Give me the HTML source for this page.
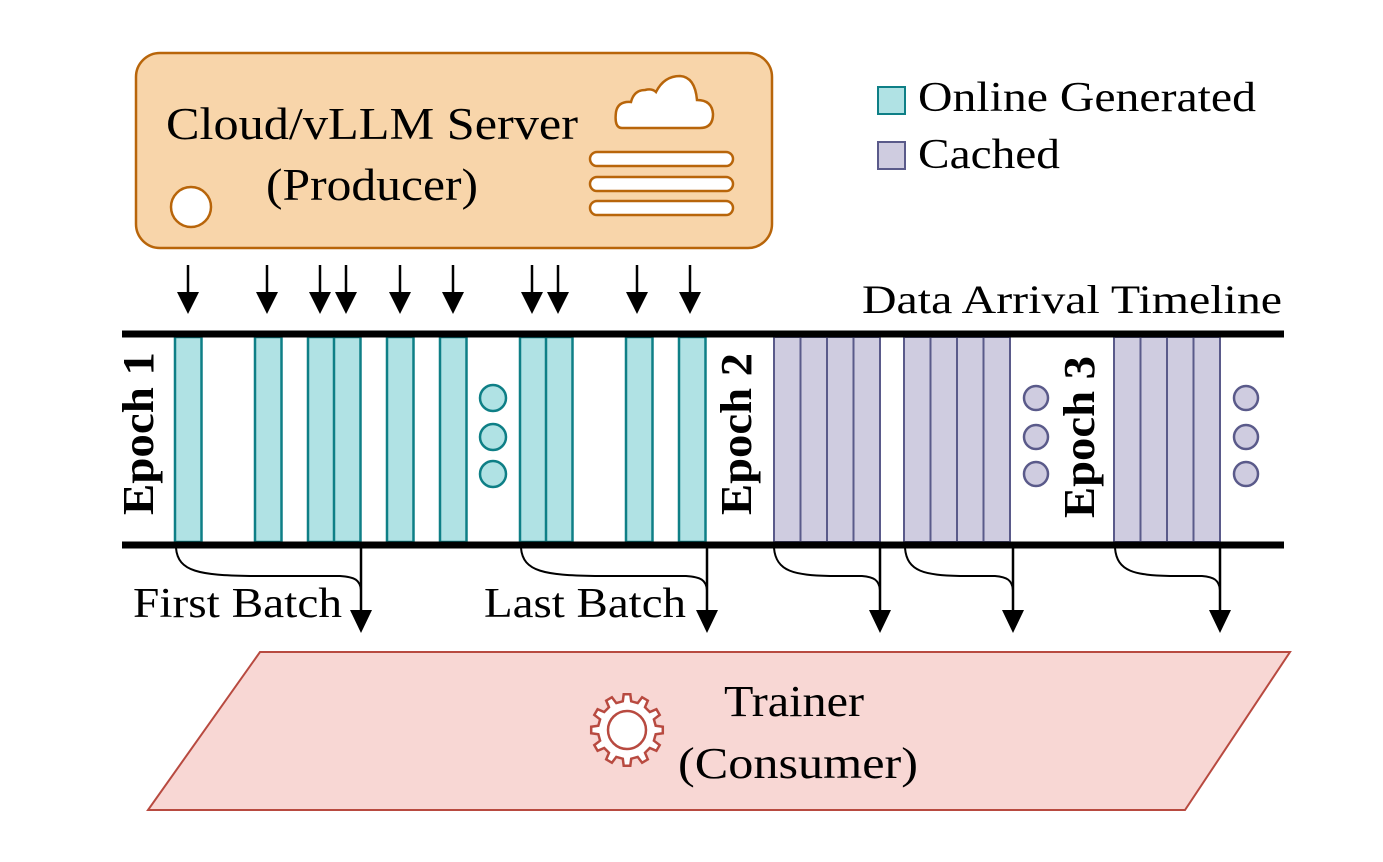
<!DOCTYPE html>
<html><head><meta charset="utf-8"><style>
html,body{margin:0;padding:0;background:#fff}
svg{display:block}
text{font-family:"Liberation Serif",serif;fill:#000}
</style></head><body>
<svg width="1383" height="862" viewBox="0 0 1383 862" xmlns="http://www.w3.org/2000/svg">
<!-- Producer -->
<rect x="136" y="53" width="636" height="195" rx="24" fill="#f8d5aa" stroke="#b8650a" stroke-width="2.5"/>
<text x="166" y="139" font-size="45" textLength="412" lengthAdjust="spacingAndGlyphs">Cloud/vLLM Server</text>
<text x="266" y="200" font-size="45" textLength="212" lengthAdjust="spacingAndGlyphs">(Producer)</text>
<circle cx="191" cy="207" r="20" fill="#fff" stroke="#b8650a" stroke-width="2.5"/>
<path d="M622,128 Q614,128 616,112 Q618,101 631,102 Q634,90 645,90 Q652,88 656,92 Q664,76 680,76 Q695,77 697,100 Q712,100 713,114 Q713,128 700,128 Z" fill="#fff" stroke="#b8650a" stroke-width="2.5"/>
<rect x="590" y="152" width="143" height="14" rx="7" fill="#fff" stroke="#b8650a" stroke-width="2.5"/>
<rect x="590" y="177" width="143" height="14" rx="7" fill="#fff" stroke="#b8650a" stroke-width="2.5"/>
<rect x="590" y="201" width="143" height="14" rx="7" fill="#fff" stroke="#b8650a" stroke-width="2.5"/>
<!-- Legend -->
<rect x="878" y="87" width="27" height="27" fill="#b0e2e4" stroke="#0e7f86" stroke-width="2"/>
<text x="918" y="111" font-size="42" textLength="338" lengthAdjust="spacingAndGlyphs">Online Generated</text>
<rect x="878" y="142" width="27" height="27" fill="#cfcce0" stroke="#5a5a8a" stroke-width="2"/>
<text x="918" y="168" font-size="42" textLength="142" lengthAdjust="spacingAndGlyphs">Cached</text>
<text x="862" y="313" font-size="40" textLength="420" lengthAdjust="spacingAndGlyphs">Data Arrival Timeline</text>
<g id="tarrows" stroke="#000" stroke-width="2.5" fill="#000"></g>
<g id="bars"></g>
<line x1="122" y1="334" x2="1284" y2="334" stroke="#000" stroke-width="7"/>
<line x1="122" y1="545" x2="1284" y2="545" stroke="#000" stroke-width="7"/>
<text transform="translate(153,515) rotate(-90)" font-size="44" font-weight="bold" textLength="163" lengthAdjust="spacingAndGlyphs">Epoch 1</text>
<text transform="translate(751,515) rotate(-90)" font-size="44" font-weight="bold" textLength="162" lengthAdjust="spacingAndGlyphs">Epoch 2</text>
<text transform="translate(1094,518) rotate(-90)" font-size="44" font-weight="bold" textLength="162" lengthAdjust="spacingAndGlyphs">Epoch 3</text>
<g fill="none" stroke="#000" stroke-width="2">
<path d="M176,548 C178,572 200,575 250,576 L340,576 C355,577 360,580 361,590"/>
<path d="M521,548 C523,572 545,575 595,576 L686,576 C701,577 706,580 707,590"/>
<path d="M774,548 C776,572 795,575 830,576 L862,576 C874,577 879,580 880,590"/>
<path d="M905,548 C907,572 925,575 960,576 L995,576 C1007,577 1012,580 1013,590"/>
<path d="M1115,548 C1117,572 1135,575 1170,576 L1202,576 C1214,577 1219,580 1220,590"/>
</g>
<g id="barrows" stroke="#000" stroke-width="2.5" fill="#000"></g>
<text x="133" y="617" font-size="42" textLength="209" lengthAdjust="spacingAndGlyphs">First Batch</text>
<text x="484" y="617" font-size="42" textLength="202" lengthAdjust="spacingAndGlyphs">Last Batch</text>
<polygon points="260,652 1290,652 1185,810 148,810" fill="#f8d7d4" stroke="#b84a40" stroke-width="2"/>
<text x="724" y="716" font-size="44" textLength="140" lengthAdjust="spacingAndGlyphs">Trainer</text>
<text x="678" y="778" font-size="44" textLength="240" lengthAdjust="spacingAndGlyphs">(Consumer)</text>
<path id="gear" fill="#fff" stroke="#b84a40" stroke-width="2.5"/>
<circle cx="627" cy="730" r="19" fill="#fff" stroke="#b84a40" stroke-width="2.5"/>
</svg>
<script>
var NS="http://www.w3.org/2000/svg";
function el(p,t,a){var e=document.createElementNS(NS,t);for(var k in a)e.setAttribute(k,a[k]);p.appendChild(e);return e;}
var ta=document.getElementById('tarrows');
[188,267,320,346,400,453,532,558,637,690].forEach(function(x){
 el(ta,'line',{x1:x,y1:265,x2:x,y2:300});
 el(ta,'polygon',{points:(x-11)+',292 '+(x+11)+',292 '+x+',314',stroke:'none'});
});
var ba=document.getElementById('barrows');
[361,707,880,1013,1220].forEach(function(x){
 el(ba,'line',{x1:x,y1:545,x2:x,y2:618});
 el(ba,'polygon',{points:(x-11)+',610 '+(x+11)+',610 '+x+',633',stroke:'none'});
});
var b=document.getElementById('bars');
[175,255,308,334,387,440,520,546,626,679].forEach(function(x){
 el(b,'rect',{x:x,y:337,width:26.5,height:205,fill:'#b0e2e4',stroke:'#0e7f86','stroke-width':2.5});
});
[774,904,1114].forEach(function(s){for(var i=0;i<4;i++)
 el(b,'rect',{x:s+i*26.5,y:337,width:26.5,height:205,fill:'#cfcce0',stroke:'#5a5a8a','stroke-width':2});});
[398,437,474].forEach(function(y){
 el(b,'circle',{cx:493,cy:y,r:13,fill:'#b0e2e4',stroke:'#0e7f86','stroke-width':2.5});
 el(b,'circle',{cx:1036,cy:y,r:12,fill:'#cfcce0',stroke:'#5a5a8a','stroke-width':2.5});
 el(b,'circle',{cx:1246,cy:y,r:12,fill:'#cfcce0',stroke:'#5a5a8a','stroke-width':2.5});
});
var cx=627,cy=730,n=12,ro=36,ri=29,d='';
for(var i=0;i<n;i++){
 var a0=i*2*Math.PI/n, w=Math.PI/n;
 var pts=[[ri,a0-w*0.55],[ro,a0-w*0.35],[ro,a0+w*0.35],[ri,a0+w*0.55]];
 pts.forEach(function(p,j){var X=cx+p[0]*Math.cos(p[1]),Y=cy+p[0]*Math.sin(p[1]);d+=(i==0&&j==0?'M':'L')+X.toFixed(1)+','+Y.toFixed(1);});
}
document.getElementById('gear').setAttribute('d',d+'Z');
</script>
</body></html>
